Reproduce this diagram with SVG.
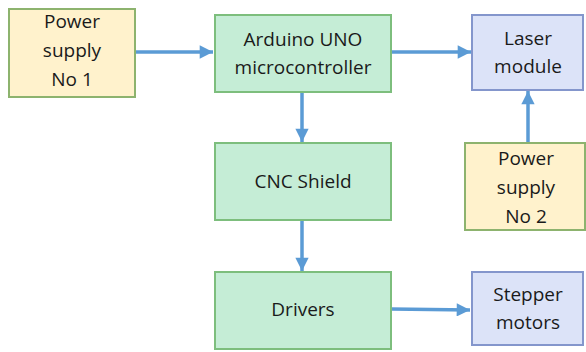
<svg xmlns="http://www.w3.org/2000/svg" width="586" height="352" viewBox="0 0 586 352">
<style>
.y{fill:#FFF2CC;stroke:#8DB36E;stroke-width:2}
.g{fill:#C5EDD6;stroke:#7DBE7D;stroke-width:2}
.b{fill:#DCE3F8;stroke:#8496CC;stroke-width:2}
text{font-family:"Open Sans","Liberation Sans",Arial,sans-serif;font-size:19px;fill:#1a1a1a;text-anchor:middle}
.c{stroke:#5B9BD5;stroke-width:3.5;fill:none}
</style>
<defs>
<marker id="ah" viewBox="0 0 10 10" refX="10" refY="5" markerWidth="4" markerHeight="3.8" markerUnits="strokeWidth" orient="auto">
<path d="M0,0 L10,5 L0,10 z" fill="#5B9BD5"/>
</marker>
</defs>
<rect width="586" height="352" fill="#ffffff"/>
<g id="connectors">
<line class="c" x1="135" y1="52" x2="213" y2="52" marker-end="url(#ah)"/>
<line class="c" x1="391" y1="52" x2="471" y2="52" marker-end="url(#ah)"/>
<line class="c" x1="302" y1="92" x2="302" y2="142" marker-end="url(#ah)"/>
<line class="c" x1="302" y1="221" x2="302" y2="271" marker-end="url(#ah)"/>
<line class="c" x1="528" y1="143" x2="528" y2="91" marker-end="url(#ah)"/>
<line class="c" x1="391" y1="309" x2="470" y2="310" marker-end="url(#ah)"/>
</g>
<g id="ps1"><rect class="y" x="9" y="9" width="126" height="88"/>
<text x="72" y="28">Power</text><text x="72" y="57">supply</text><text x="72" y="86">No 1</text></g>
<g id="arduino"><rect class="g" x="215" y="15" width="176" height="77"/>
<text x="303" y="46">Arduino UNO</text><text x="303" y="74">microcontroller</text></g>
<g id="laser"><rect class="b" x="472" y="15" width="111" height="75"/>
<text x="528" y="45">Laser</text><text x="528" y="73">module</text></g>
<g id="cnc"><rect class="g" x="215" y="143" width="176" height="77"/>
<text x="303" y="188">CNC Shield</text></g>
<g id="ps2"><rect class="y" x="465" y="143" width="120" height="87"/>
<text x="526" y="165">Power</text><text x="526" y="194">supply</text><text x="526" y="223">No 2</text></g>
<g id="drivers"><rect class="g" x="215" y="272" width="176" height="77"/>
<text x="303" y="316">Drivers</text></g>
<g id="stepper"><rect class="b" x="472" y="272" width="111" height="73"/>
<text x="528" y="301">Stepper</text><text x="528" y="329">motors</text></g>
</svg>
